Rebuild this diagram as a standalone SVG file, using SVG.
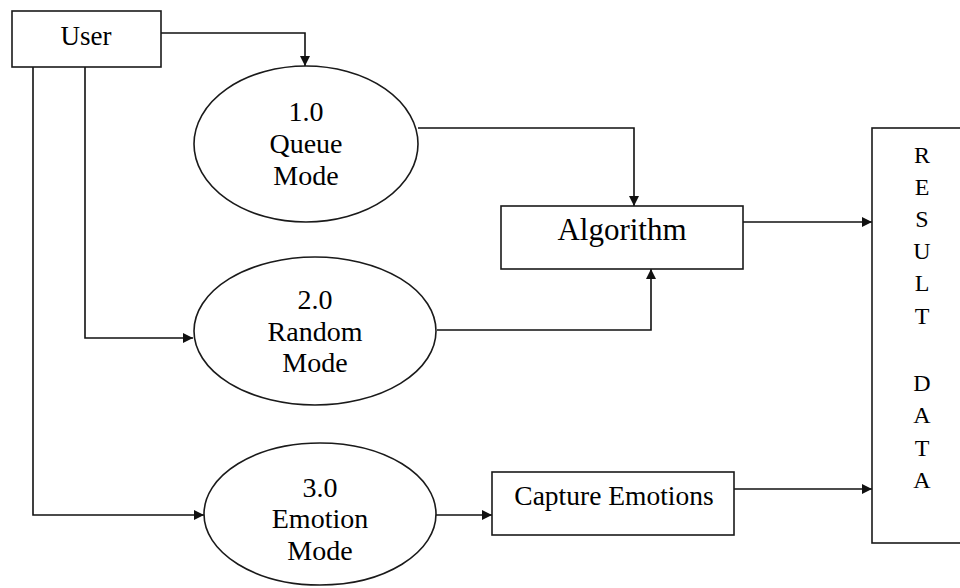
<svg xmlns="http://www.w3.org/2000/svg" width="960" height="588" viewBox="0 0 960 588">
  <style>
    .box { fill: #ffffff; stroke: #1a1a1a; stroke-width: 1.6; }
    .proc { fill: #ffffff; stroke: #1a1a1a; stroke-width: 1.6; }
    .flow { fill: none; stroke: #111111; stroke-width: 1.6; marker-end: url(#arrow); }
    .label { font-family: "Liberation Serif", "Times New Roman", serif; fill: #000000; text-anchor: middle; }
  </style>
  <defs>
    <marker id="arrow" viewBox="0 0 10 10" refX="10" refY="5" markerWidth="11" markerHeight="10" markerUnits="userSpaceOnUse" orient="auto">
      <path d="M0,0 L10,5 L0,10 Z" fill="#111111"/>
    </marker>
  </defs>
  <rect width="960" height="588" fill="#ffffff"/>

  <g id="connectors">
    <polyline class="flow" points="161,33 305,33 305,66"/>
    <polyline class="flow" points="418,128 634,128 634,206"/>
    <polyline class="flow" points="437,330 651,330 651,269"/>
    <polyline class="flow" points="743,222 872,222"/>
    <polyline class="flow" points="85,67 85,338 193,338"/>
    <polyline class="flow" points="33,67 33,515 204,515"/>
    <polyline class="flow" points="436,515 492,515"/>
    <polyline class="flow" points="734,489 872,489"/>
  </g>

  <g id="user">
    <rect class="box" x="12" y="11" width="149" height="56"/>
    <text class="label" x="86" y="45" font-size="27">User</text>
  </g>

  <g id="queue-mode">
    <ellipse class="proc" cx="306" cy="144" rx="112" ry="78"/>
    <text class="label" x="306" y="121" font-size="28">1.0</text>
    <text class="label" x="306" y="153" font-size="28">Queue</text>
    <text class="label" x="306" y="185" font-size="28">Mode</text>
  </g>

  <g id="random-mode">
    <ellipse class="proc" cx="315" cy="331" rx="121" ry="74"/>
    <text class="label" x="315" y="309" font-size="28">2.0</text>
    <text class="label" x="315" y="341" font-size="28">Random</text>
    <text class="label" x="315" y="372" font-size="28">Mode</text>
  </g>

  <g id="emotion-mode">
    <ellipse class="proc" cx="320" cy="514" rx="116" ry="71"/>
    <text class="label" x="320" y="497" font-size="28">3.0</text>
    <text class="label" x="320" y="528" font-size="28">Emotion</text>
    <text class="label" x="320" y="560" font-size="28">Mode</text>
  </g>

  <g id="algorithm">
    <rect class="box" x="501" y="206" width="242" height="63"/>
    <text class="label" x="622" y="240" font-size="31">Algorithm</text>
  </g>

  <g id="capture-emotions">
    <rect class="box" x="492" y="472" width="242" height="63"/>
    <text class="label" x="614" y="505" font-size="27.5">Capture Emotions</text>
  </g>

  <g id="result-data">
    <rect class="box" x="872" y="128" width="100" height="415"/>
    <g class="label" font-size="24">
      <text x="922" y="163">R</text>
      <text x="922" y="195">E</text>
      <text x="922" y="227">S</text>
      <text x="922" y="259">U</text>
      <text x="922" y="291">L</text>
      <text x="922" y="324">T</text>
      <text x="922" y="391">D</text>
      <text x="922" y="423">A</text>
      <text x="922" y="456">T</text>
      <text x="922" y="488">A</text>
    </g>
  </g>
</svg>
